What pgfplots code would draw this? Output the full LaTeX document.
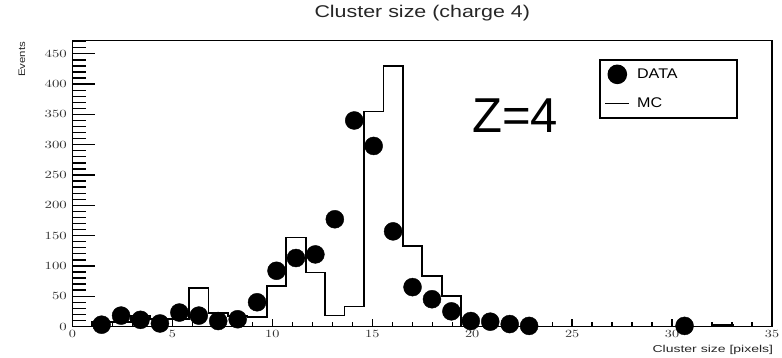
\documentclass[border=0pt]{standalone}
\usepackage{pgfplots}
\pgfplotsset{compat=1.18}
\usepackage{fontspec}
\setmainfont{Liberation Sans}
\usepackage{graphicx}
\newcommand{\wfont}[3]{\scalebox{#2}[1]{\fontsize{#1}{#1}\selectfont #3}}
\pgfplotsset{
  mclegend/.style={legend image code/.code={\draw[##1] (0pt,0pt) -- (24pt,0pt);}},
  datalegend/.style={legend image code/.code={\path (0pt,0pt) (24pt,0pt);
     \draw[overlay, mark=*, mark size=9pt, only marks, black] plot coordinates {(12pt,0pt)};}},
}
\begin{document}
\begin{tikzpicture}
\path[use as bounding box] (-72.5pt,-30.5pt) rectangle (709.5pt,326.5pt);
% axis carrying the y ticks (ROOT style long ticks)
\begin{axis}[
  at={(0pt,0pt)}, anchor=south west,
  scale only axis, width=699.5pt, height=286pt,
  xmin=0, xmax=35, ymin=0, ymax=472,
  axis line style={line width=1.5pt},
  xtick=\empty,
  ytick={0,50,...,450},
  minor ytick={0,10,...,470},
  ytick pos=left,
  tick align=inside,
  major tick length=22pt, minor tick length=13pt,
  every tick/.style={line width=1.3pt, black},
  yticklabel style={anchor=east, inner sep=0pt, xshift=-5.5pt, text=black!80},
  yticklabel={\wfont{10.5}{1.35}{\pgfmathprintnumber{\tick}}},
]
\end{axis}
% main axis with data
\begin{axis}[
  at={(0pt,0pt)}, anchor=south west,
  scale only axis, width=699.5pt, height=286pt,
  xmin=0, xmax=35, ymin=0, ymax=472,
  axis line style={line width=1.5pt},
  ytick=\empty,
  xtick={0,5,...,35},
  minor x tick num=4,
  xtick pos=left,
  tick align=inside,
  major tick length=8pt, minor tick length=4.5pt,
  every tick/.style={line width=1.3pt, black},
  xticklabel style={anchor=north, inner sep=0pt, yshift=-3.5pt, text=black!80},
  xticklabel={\wfont{10.5}{1.3}{\pgfmathprintnumber{\tick}}},
  clip=false,
  title={\wfont{17}{1.26}{Cluster size (charge 4)}},
  title style={at={(axis description cs:0.5,1)}, anchor=base, yshift=17.2pt, inner sep=0pt, text=black!85},
  legend style={at={(axis description cs:0.7527,0.9343)}, anchor=north west,
    draw=black, line width=1.6pt, inner xsep=4.7pt, inner ysep=6.5pt,
    row sep=13.7pt, column sep=5pt,
    font=\fontsize{14}{14}\selectfont, legend cell align=left},
]
\addlegendimage{black, datalegend}
\addlegendentry{\makebox[93pt][l]{\rule[-3pt]{0pt}{13pt}\scalebox{1.15}[1]{DATA}}}
\addlegendimage{black, line width=1.6pt, mclegend}
\addlegendentry{\makebox[93pt][l]{\rule[-3pt]{0pt}{13pt}\scalebox{1.15}[1]{MC}}}

% MC histogram: 36 bins over [0,35], left bin edges
\addplot[forget plot, const plot mark left, black, line width=1.7pt] coordinates {
(0,0) (0.9722,8) (1.9444,8) (2.9167,18) (3.8889,12) (4.8611,12)
(5.8333,64) (6.8056,22) (7.7778,17) (8.75,16) (9.7222,67) (10.6944,147)
(11.6667,89) (12.6389,18) (13.6111,33) (14.5833,355) (15.5556,430)
(16.5278,133) (17.5,83) (18.4722,50) (19.4444,0) (32.0833,3) (33.0556,0) (35,0)};

% DATA points at bin centres
\addplot[forget plot, only marks, mark=*, mark size=9pt, black] coordinates {
(1.4583,3) (2.4306,18) (3.4028,11) (4.375,5) (5.3472,23) (6.3194,18)
(7.2917,9) (8.2639,12) (9.2361,40) (10.2083,92) (11.1806,113) (12.1528,119)
(13.125,177) (14.0972,340) (15.0694,298) (16.0417,157) (17.0139,65)
(17.9861,45) (18.9583,25) (19.9306,9) (20.9028,8) (21.875,4) (22.8472,1)
(30.625,1)};

\node[anchor=base west, inner sep=0pt, font=\fontsize{49}{49}\selectfont] at (axis description cs:0.571,0.6766) {Z=4};
\node[rotate=90, anchor=east, inner sep=0pt, text=black!85] at (axis description cs:-0.0722,0.9958) {\wfont{9.5}{1.2}{Events}};
\node[anchor=base east, inner sep=0pt, text=black!85] at (axis description cs:1.0019,-0.0892) {\wfont{10}{1.4}{Cluster size [pixels]}};
\end{axis}
\end{tikzpicture}
\end{document}
